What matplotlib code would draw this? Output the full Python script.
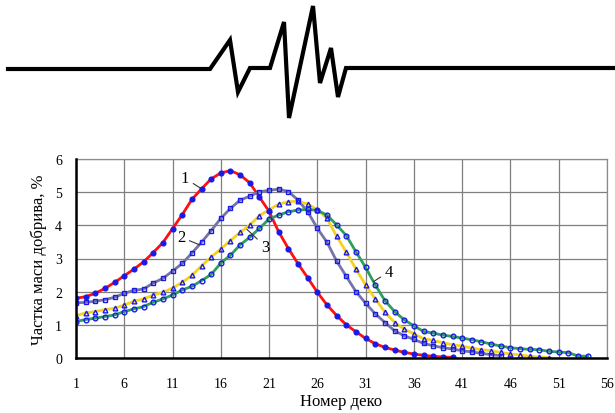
import matplotlib
matplotlib.use("Agg")
import matplotlib.pyplot as plt
import numpy as np

plt.rcParams['font.family'] = ['Liberation Serif', 'DejaVu Serif']

# decorative pulse above the chart (pixel coords of the header strip)
wave_x = [8, 210, 230, 238, 250, 270, 284, 289, 313, 320, 331, 338, 346, 614]
wave_y = [70, 70, 41, 93, 69, 69, 23, 119, 7, 84, 49, 98, 69, 69]

# mass share per deck, %
s1 = [1.80, 1.85, 1.95, 2.10, 2.28, 2.48, 2.68, 2.90, 3.18, 3.48,
      3.90, 4.32, 4.78, 5.10, 5.40, 5.58, 5.65, 5.52, 5.28, 4.85,
      4.42, 3.80, 3.30, 2.84, 2.42, 1.98, 1.60, 1.28, 1.00, 0.79,
      0.59, 0.43, 0.32, 0.24, 0.17, 0.12, 0.08, 0.05, 0.03, 0.02]
s2 = [1.66, 1.68, 1.71, 1.76, 1.83, 1.95, 2.04, 2.08, 2.26, 2.40,
      2.62, 2.85, 3.16, 3.49, 3.84, 4.21, 4.51, 4.76, 4.88, 5.01,
      5.06, 5.09, 5.02, 4.76, 4.41, 3.91, 3.49, 2.92, 2.46, 2.00,
      1.65, 1.33, 1.07, 0.82, 0.67, 0.56, 0.44, 0.37, 0.31, 0.27,
      0.22, 0.18, 0.14, 0.10, 0.07]
s3 = [1.28, 1.36, 1.40, 1.46, 1.50, 1.60, 1.71, 1.78, 1.90, 1.98,
      2.11, 2.28, 2.49, 2.78, 3.04, 3.29, 3.54, 3.79, 4.01, 4.29,
      4.47, 4.64, 4.71, 4.73, 4.64, 4.47, 4.21, 3.67, 3.19, 2.68,
      2.20, 1.78, 1.38, 1.07, 0.87, 0.73, 0.58, 0.53, 0.46, 0.40,
      0.36, 0.30, 0.25, 0.22, 0.17, 0.12, 0.09, 0.05, 0.03, 0.01]
s4 = [1.10, 1.16, 1.20, 1.25, 1.30, 1.40, 1.48, 1.55, 1.68, 1.78,
      1.90, 2.05, 2.16, 2.33, 2.52, 2.86, 3.10, 3.41, 3.64, 3.91,
      4.19, 4.31, 4.41, 4.46, 4.48, 4.45, 4.31, 4.01, 3.69, 3.20,
      2.73, 2.20, 1.73, 1.40, 1.15, 0.97, 0.80, 0.75, 0.69, 0.65,
      0.60, 0.55, 0.49, 0.42, 0.36, 0.31, 0.28, 0.26, 0.25, 0.20,
      0.18, 0.16, 0.06, 0.05]

xticks = list(range(1, 57, 5))

fig = plt.figure(figsize=(6.15, 4.14), dpi=100)

# header strip with the pulse
axw = fig.add_axes([0, 1 - 130 / 414, 1, 130 / 414])
axw.plot(wave_x, wave_y, color='black', lw=3, solid_joinstyle='miter')
axw.set_xlim(0, 615)
axw.set_ylim(130, 0)
axw.axis('off')

ax = fig.add_axes([76 / 615, 55 / 414, 531 / 615, 199 / 414])

mk = '#1a1ae6'
series = [
    (s1, '#ff1010', 'o', mk),
    (s2, '#7474a8', 's', 'none'),
    (s3, '#f5d21e', '^', 'none'),
    (s4, '#2e9e5e', 'o', 'none'),
]
for vals, col, m, fc in series:
    x = np.arange(1, len(vals) + 1)
    ax.plot(x, vals, color=col, lw=2.0, zorder=3)
    ax.plot(x, vals, ls='none', marker=m, ms=3.4, mec=mk, mfc=fc,
            mew=1.0, zorder=4)

ax.set_xlim(1, 56)
ax.set_ylim(0, 6)
ax.set_xticks(xticks)
ax.set_yticks(range(0, 7))
ax.grid(True, color='#7f7f7f', lw=0.9)
ax.set_axisbelow(True)
ax.tick_params(length=0, labelsize=10)
ax.tick_params(axis='x', pad=14)
ax.tick_params(axis='y', pad=10)
for s in ['top', 'right']:
    ax.spines[s].set_color('#8c8c8c')
    ax.spines[s].set_linewidth(0.9)
for s in ['left', 'bottom']:
    ax.spines[s].set_color('black')
    ax.spines[s].set_linewidth(1.8)
    ax.spines[s].set_zorder(5)

ax.set_xlabel('Номер деко', fontsize=12, labelpad=2)
ax.set_ylabel('Частка маси добрива, %', fontsize=12, labelpad=6)

# curve numbers with short leader lines
line_kw = dict(arrowstyle='-', color='#333333', lw=0.8, shrinkA=1, shrinkB=0)
ax.annotate('1', xy=(14.0, 5.1), xytext=(12.3, 5.42), fontsize=12,
            ha='center', va='center', arrowprops=line_kw)
ax.annotate('2', xy=(13.8, 3.41), xytext=(11.9, 3.64), fontsize=12,
            ha='center', va='center', arrowprops=line_kw)
ax.annotate('3', xy=(18.7, 3.88), xytext=(20.6, 3.36), fontsize=12,
            ha='center', va='center', arrowprops=line_kw)
ax.annotate('4', xy=(31.8, 2.3), xytext=(33.4, 2.6), fontsize=12,
            ha='center', va='center', arrowprops=line_kw)

fig.savefig('out.png', dpi=100)
